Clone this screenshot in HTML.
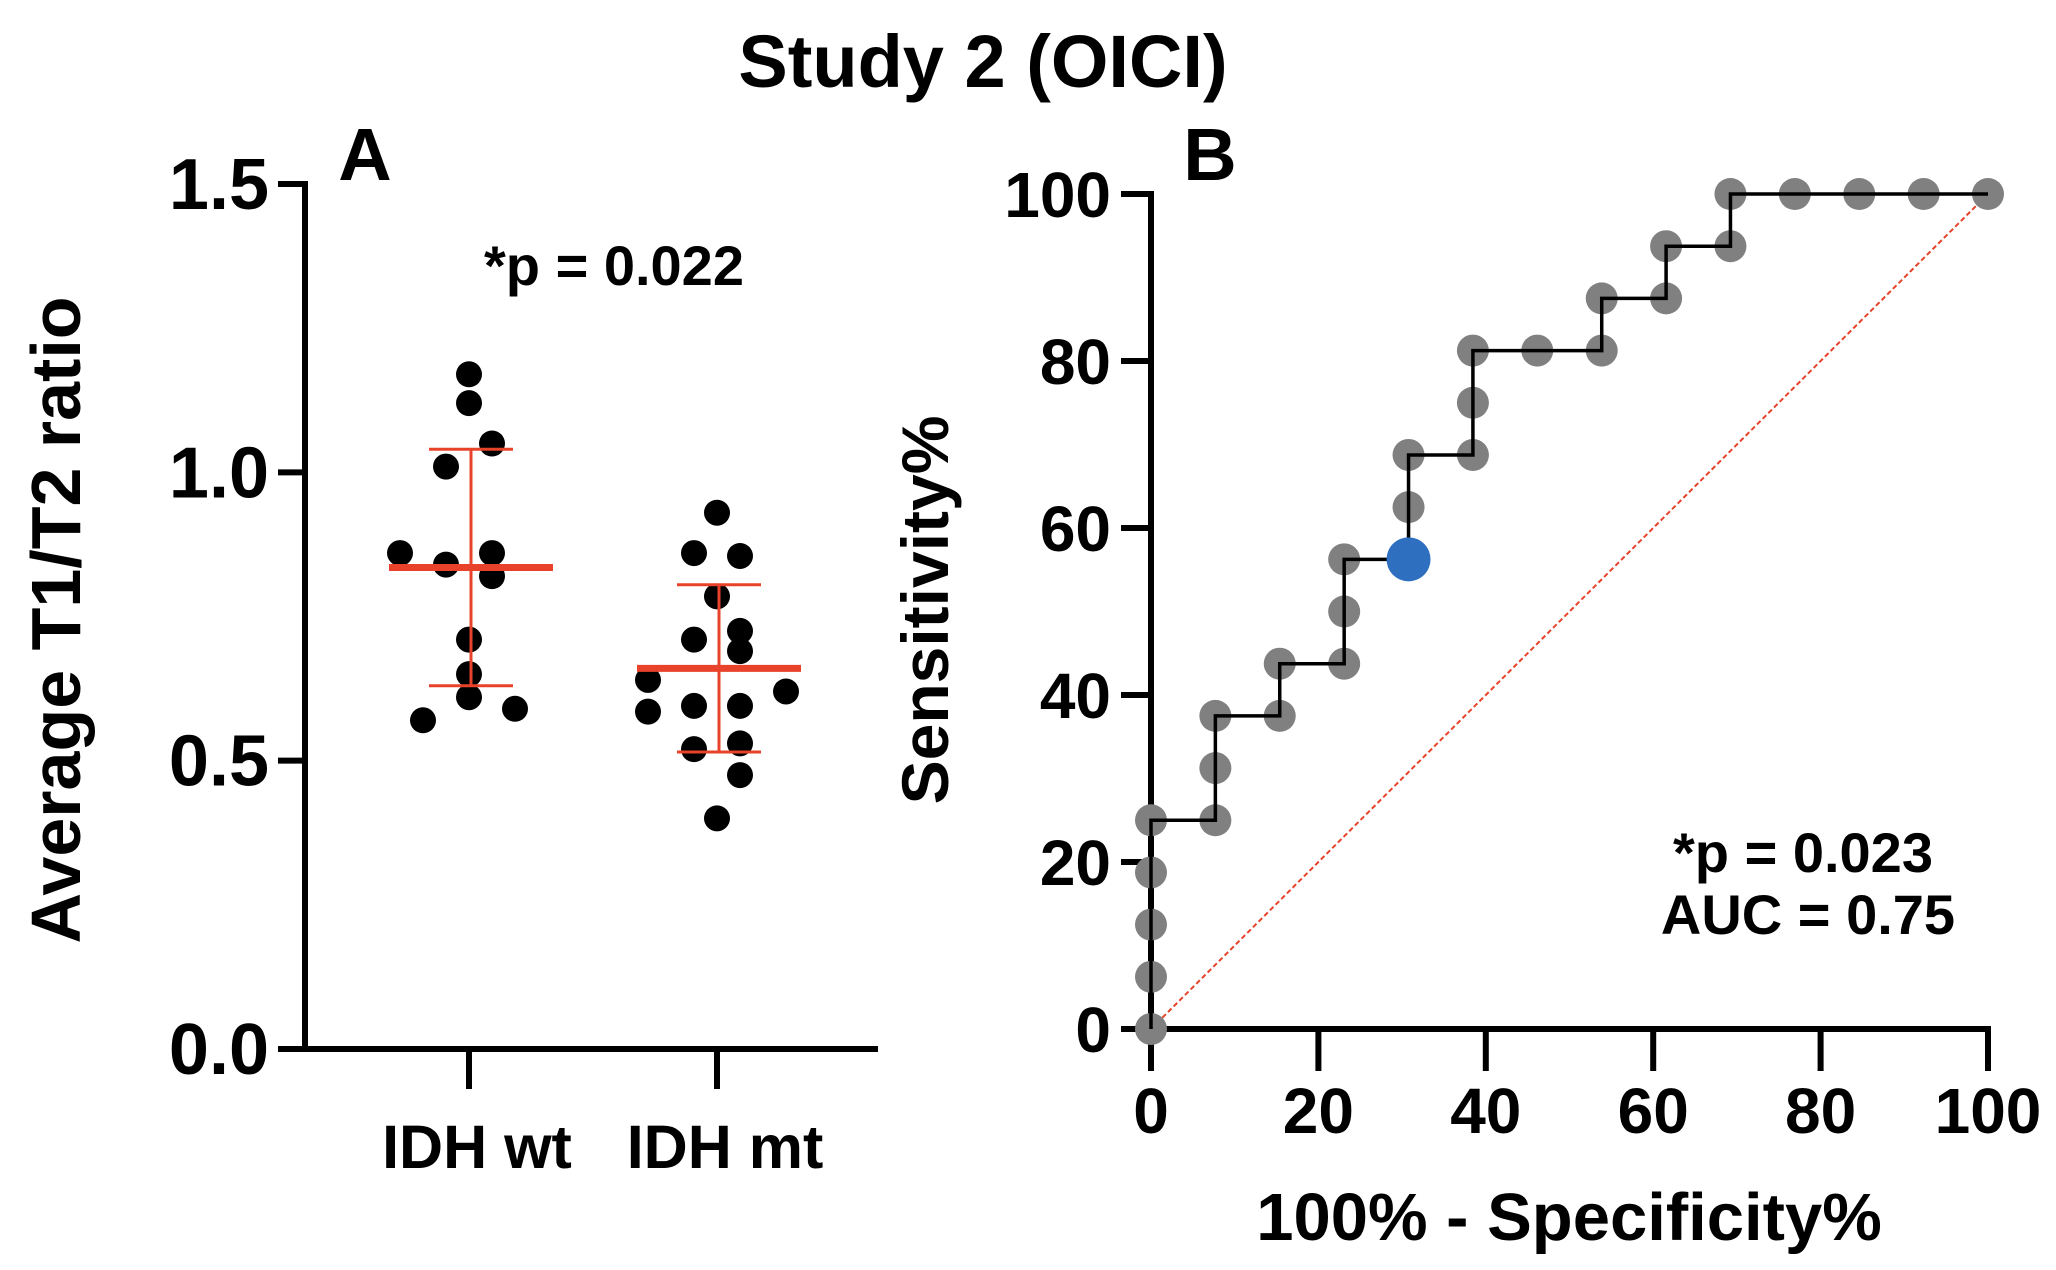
<!DOCTYPE html>
<html><head><meta charset="utf-8"><style>
html,body{margin:0;padding:0;background:#fff;}
svg{display:block;font-family:"Liberation Sans",Arial,sans-serif;font-weight:bold;}
</style></head><body>
<svg id="chart" width="2056" height="1270" viewBox="0 0 2056 1270">
<text x="983" y="87" font-size="74" text-anchor="middle">Study 2 (OICI)</text>
<g id="pa"></g>
<g id="pb"></g>
</svg>
<script>
// Panel A data
const groups = ["IDH wt", "IDH mt"];
const wtValues = [1.17,1.12,1.05,1.01,0.86,0.84,0.86,0.82,0.71,0.65,0.61,0.57,0.59];
const wtJitter = [0,0,1,-1,-3,-1,1,1,0,0,0,-2,2];
const mtValues = [0.93,0.86,0.855,0.785,0.71,0.725,0.69,0.64,0.62,0.585,0.595,0.595,0.53,0.52,0.475,0.40];
const mtJitter = [0,-1,1,0,-1,1,1,-3,3,-3,-1,1,1,-1,1,0];
const groupMeans = [0.835,0.66];
const groupSD = [0.205,0.145];
const yTicksA = [0,0.5,1.0,1.5];
const yTickLabelsA = ["0.0","0.5","1.0","1.5"];
// Panel B data
const rocFpr = [0,0,0,0,0,7.69,7.69,7.69,15.38,15.38,23.08,23.08,23.08,30.77,30.77,30.77,38.46,38.46,38.46,46.15,53.85,53.85,61.54,61.54,69.23,69.23,76.92,84.62,92.31,100];
const rocTpr = [0,6.25,12.5,18.75,25,25,31.25,37.5,37.5,43.75,43.75,50,56.25,56.25,62.5,68.75,68.75,75,81.25,81.25,81.25,87.5,87.5,93.75,93.75,100,100,100,100,100];
const cutoffIndex = 13;
const xTicksB = [0,20,40,60,80,100];
const yTicksB = [0,20,40,60,80,100];

const NS="http://www.w3.org/2000/svg";
function mk(parent,tag,attrs,text){const e=document.createElementNS(NS,tag);for(const k in attrs)e.setAttribute(k,attrs[k]);if(text!==undefined)e.textContent=text;parent.appendChild(e);return e;}

// ---- Panel A ----
const pa=document.getElementById('pa');
const axA={x0:305,x1:878,y0:1049,y1:184,max:1.5};
const yA=v=>axA.y0-(v/axA.max)*(axA.y0-axA.y1);
const xCat=[469,717];
const jit=23;
let e;
e=mk(pa,'line',{x1:axA.x0,y1:axA.y1-3,x2:axA.x0,y2:axA.y0,stroke:'#000','stroke-width':6});


e=mk(pa,'line',{x1:axA.x0-3,y1:axA.y0,x2:axA.x1,y2:axA.y0,stroke:'#000','stroke-width':6});


yTicksA.forEach((t,i)=>{
  e=mk(pa,'line',{x1:axA.x0-27,y1:yA(t),x2:axA.x0,y2:yA(t),stroke:'#000','stroke-width':6});
  
  
  e=mk(pa,'text',{x:axA.x0-36,y:yA(t)+25,'font-size':72,'text-anchor':'end'},yTickLabelsA[i]);
  
  
});
groups.forEach((g,i)=>{
  e=mk(pa,'line',{x1:xCat[i],y1:axA.y0,x2:xCat[i],y2:axA.y0+40,stroke:'#000','stroke-width':6});
  
  
  e=mk(pa,'text',{x:xCat[i]+8,y:1168,'font-size':61,'text-anchor':'middle'},g);
  
  
});
e=mk(pa,'text',{x:0,y:0,'font-size':70,'text-anchor':'middle',transform:'translate(80,620) rotate(-90)'},'Average T1/T2 ratio');


e=mk(pa,'text',{x:365,y:180,'font-size':74,'text-anchor':'middle'},'A');


e=mk(pa,'text',{x:614,y:285,'font-size':56,'text-anchor':'middle'},'*p = 0.022');


[[wtValues,wtJitter],[mtValues,mtJitter]].forEach(([vals,js],gi)=>{
  vals.forEach((v,k)=>{
    e=mk(pa,'circle',{cx:xCat[gi]+js[k]*jit,cy:yA(v),r:13,fill:'#000'});
    
    
  });
  const m=groupMeans[gi],s=groupSD[gi],cx=xCat[gi]+2;
  e=mk(pa,'line',{x1:cx,y1:yA(m+s),x2:cx,y2:yA(m-s),stroke:'#e8432a','stroke-width':3});
  
  
  [m+s,m-s].forEach(v=>{
    e=mk(pa,'line',{x1:cx-42,y1:yA(v),x2:cx+42,y2:yA(v),stroke:'#e8432a','stroke-width':3});
    
    
  });
  e=mk(pa,'line',{x1:cx-82,y1:yA(m),x2:cx+82,y2:yA(m),stroke:'#e8432a','stroke-width':7});
  
  
});

// ---- Panel B ----
const pb=document.getElementById('pb');
const axB={x0:1151,x1:1988,y0:1029,y1:194};
const xB=v=>axB.x0+v/100*(axB.x1-axB.x0);
const yB=v=>axB.y0-v/100*(axB.y0-axB.y1);
e=mk(pb,'line',{x1:xB(0),y1:yB(0),x2:xB(100),y2:yB(100),stroke:'#e8432a','stroke-width':2,'stroke-dasharray':'5,3'});


e=mk(pb,'line',{x1:axB.x0,y1:axB.y1-3,x2:axB.x0,y2:axB.y0+42,stroke:'#000','stroke-width':6});


e=mk(pb,'line',{x1:axB.x0-30,y1:axB.y0,x2:axB.x1+3,y2:axB.y0,stroke:'#000','stroke-width':6});


yTicksB.forEach(t=>{
  e=mk(pb,'line',{x1:axB.x0-30,y1:yB(t),x2:axB.x0,y2:yB(t),stroke:'#000','stroke-width':6});
  
  
  e=mk(pb,'text',{x:axB.x0-40,y:yB(t)+23,'font-size':64,'text-anchor':'end'},String(t));
  
  
});
xTicksB.forEach(t=>{
  e=mk(pb,'line',{x1:xB(t),y1:axB.y0,x2:xB(t),y2:axB.y0+42,stroke:'#000','stroke-width':6});
  
  
  e=mk(pb,'text',{x:xB(t),y:1133,'font-size':64,'text-anchor':'middle'},String(t));
  
  
});
rocFpr.forEach((f,i)=>{
  e=mk(pb,'circle',{cx:xB(f),cy:yB(rocTpr[i]),r:16,fill:'#808080'});
  
  
});
let d='';
rocFpr.forEach((f,i)=>{d+=(i?'L':'M')+xB(f)+','+yB(rocTpr[i])+' ';});
e=mk(pb,'path',{d:d,fill:'none',stroke:'#000','stroke-width':3.5});


e=mk(pb,'circle',{cx:xB(rocFpr[cutoffIndex]),cy:yB(rocTpr[cutoffIndex]),r:22,fill:'#2f6fbf'});


e=mk(pb,'text',{x:1210,y:180,'font-size':74,'text-anchor':'middle'},'B');


e=mk(pb,'text',{x:0,y:0,'font-size':66,'text-anchor':'middle',transform:'translate(948,610) rotate(-90)'},'Sensitivity%');


e=mk(pb,'text',{x:1569,y:1240,'font-size':67,'text-anchor':'middle'},'100% - Specificity%');


e=mk(pb,'text',{x:1803,y:872,'font-size':56,'text-anchor':'middle'},'*p = 0.023');


e=mk(pb,'text',{x:1808,y:934,'font-size':56,'text-anchor':'middle'},'AUC = 0.75');


</script>
</body></html>
